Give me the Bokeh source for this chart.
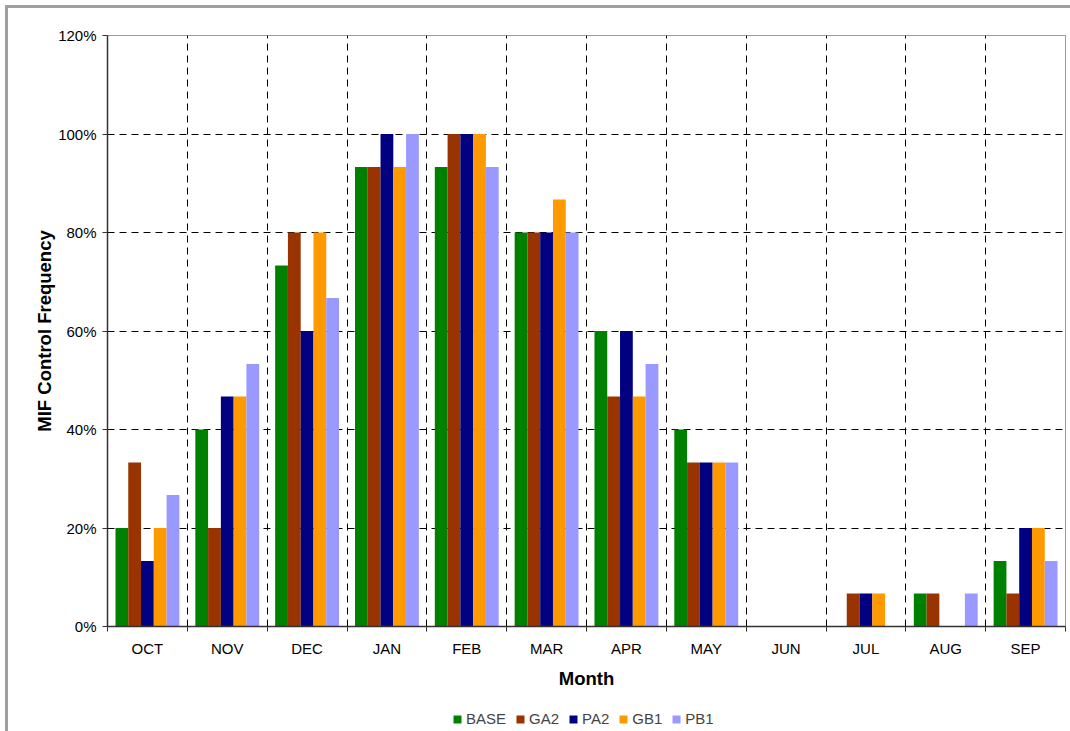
from bokeh.plotting import figure
from bokeh.layouts import column
from bokeh.models import (ColumnDataSource, FixedTicker, NumeralTickFormatter, Legend,
                          LegendItem, Range1d, InlineStyleSheet)
from bokeh.embed import file_html
from bokeh.resources import INLINE

months = ["OCT", "NOV", "DEC", "JAN", "FEB", "MAR", "APR", "MAY", "JUN", "JUL", "AUG", "SEP"]
series_names = ["BASE", "GA2", "PA2", "GB1", "PB1"]
BASE = [0.200, 0.400, 0.733, 0.933, 0.933, 0.800, 0.600, 0.400, 0.0, 0.0, 0.067, 0.133]
GA2 = [0.333, 0.200, 0.800, 0.933, 1.000, 0.800, 0.467, 0.333, 0.0, 0.067, 0.067, 0.067]
PA2 = [0.133, 0.467, 0.600, 1.000, 1.000, 0.800, 0.600, 0.333, 0.0, 0.067, 0.0, 0.200]
GB1 = [0.200, 0.467, 0.800, 0.933, 1.000, 0.867, 0.467, 0.333, 0.0, 0.067, 0.0, 0.200]
PB1 = [0.267, 0.533, 0.667, 1.000, 0.933, 0.800, 0.533, 0.333, 0.0, 0.0, 0.067, 0.133]
colors = ["#008000", "#993300", "#000080", "#FF9900", "#9999FF"]
y_ticks = [0.0, 0.2, 0.4, 0.6, 0.8, 1.0, 1.2]

FONT = "Liberation Sans"

p = figure(width=1070, height=705, output_backend="svg", toolbar_location=None,
           x_range=Range1d(0, len(months)), y_range=Range1d(0, 1.2),
           min_border_left=107, min_border_right=5, min_border_top=35, min_border_bottom=79)
p.background_fill_color = "white"
p.border_fill_alpha = 0
p.outline_line_color = "#999999"
p.outline_line_width = 1

# legend-only strip below the chart
lf = figure(width=1070, height=26, output_backend="svg", toolbar_location=None,
            x_range=Range1d(100, 101), y_range=Range1d(100, 101),
            x_axis_type=None, y_axis_type=None,
            min_border_left=0, min_border_right=0, min_border_top=0, min_border_bottom=0)
lf.outline_line_color = None
lf.background_fill_alpha = 0
lf.border_fill_alpha = 0
lf.xgrid.visible = False
lf.ygrid.visible = False

bar_w = 0.16
items = []
for k, (name, vals) in enumerate(zip(series_names, [BASE, GA2, PA2, GB1, PB1])):
    xs = [i + 0.5 + (k - 2) * bar_w for i in range(len(months))]
    src = ColumnDataSource(dict(x=xs, top=vals))
    p.vbar(x="x", top="top", width=bar_w, bottom=0, source=src,
           fill_color=colors[k], line_color=None)
    r2 = lf.vbar(x="x", top="top", width=bar_w, bottom=0, source=src,
                 fill_color=colors[k], line_color=None)
    items.append(LegendItem(label=name, renderers=[r2]))

# x axis: labels at centres, ticks at boundaries
centres = [i + 0.5 for i in range(len(months))]
p.xaxis.ticker = FixedTicker(ticks=centres, minor_ticks=list(range(len(months) + 1)))
p.xaxis.major_label_overrides = {c: m for c, m in zip(centres, months)}
p.xaxis.major_tick_out = 0
p.xaxis.major_tick_in = 0
p.xaxis.minor_tick_out = 5
p.xaxis.minor_tick_in = 0
p.xaxis.minor_tick_line_color = "#333333"
p.xaxis.axis_label = "Month"
p.xaxis.major_label_standoff = 8

p.yaxis.ticker = FixedTicker(ticks=y_ticks)
p.yaxis.formatter = NumeralTickFormatter(format="0%")
p.yaxis.major_tick_out = 5
p.yaxis.major_tick_in = 0
p.yaxis.minor_tick_line_color = None
p.yaxis.axis_label = "MIF Control Frequency"
p.yaxis.major_label_standoff = 6

for ax in (p.xaxis, p.yaxis):
    ax.axis_line_color = "#333333"
    ax.axis_line_width = 1.5
    ax.major_tick_line_color = "#333333"
    ax.major_label_text_font = FONT
    ax.major_label_text_font_size = "15px"
    ax.major_label_text_color = "black"
    ax.axis_label_text_font = FONT
    ax.axis_label_text_font_size = "18.5px"
    ax.axis_label_text_font_style = "bold"
    ax.axis_label_text_color = "black"
p.xaxis.axis_label_standoff = 8
p.yaxis.axis_label_standoff = 0

p.xgrid.ticker = FixedTicker(ticks=list(range(1, len(months))))
p.ygrid.ticker = FixedTicker(ticks=y_ticks[1:-1])
for g in (p.xgrid, p.ygrid):
    g.grid_line_color = "black"
    g.grid_line_dash = "7 5"
    g.grid_line_width = 1

legend = Legend(items=items, orientation="horizontal", location=(345, 4),
                padding=0, margin=0, spacing=9, label_standoff=4,
                glyph_width=10, glyph_height=10,
                label_text_font=FONT, label_text_font_size="15px",
                border_line_color=None, background_fill_alpha=0)
lf.add_layout(legend, "center")

layout = column(p, lf, spacing=0)
layout.stylesheets = [InlineStyleSheet(css=(
    ":host { background: "
    "linear-gradient(#a0a0a0, #a0a0a0) 5px 5px / 3px 100% no-repeat, "
    "linear-gradient(#a0a0a0, #a0a0a0) 5px 5px / 100% 3px no-repeat, white; }"))]

open("out.html", "w").write(file_html(layout, INLINE))
